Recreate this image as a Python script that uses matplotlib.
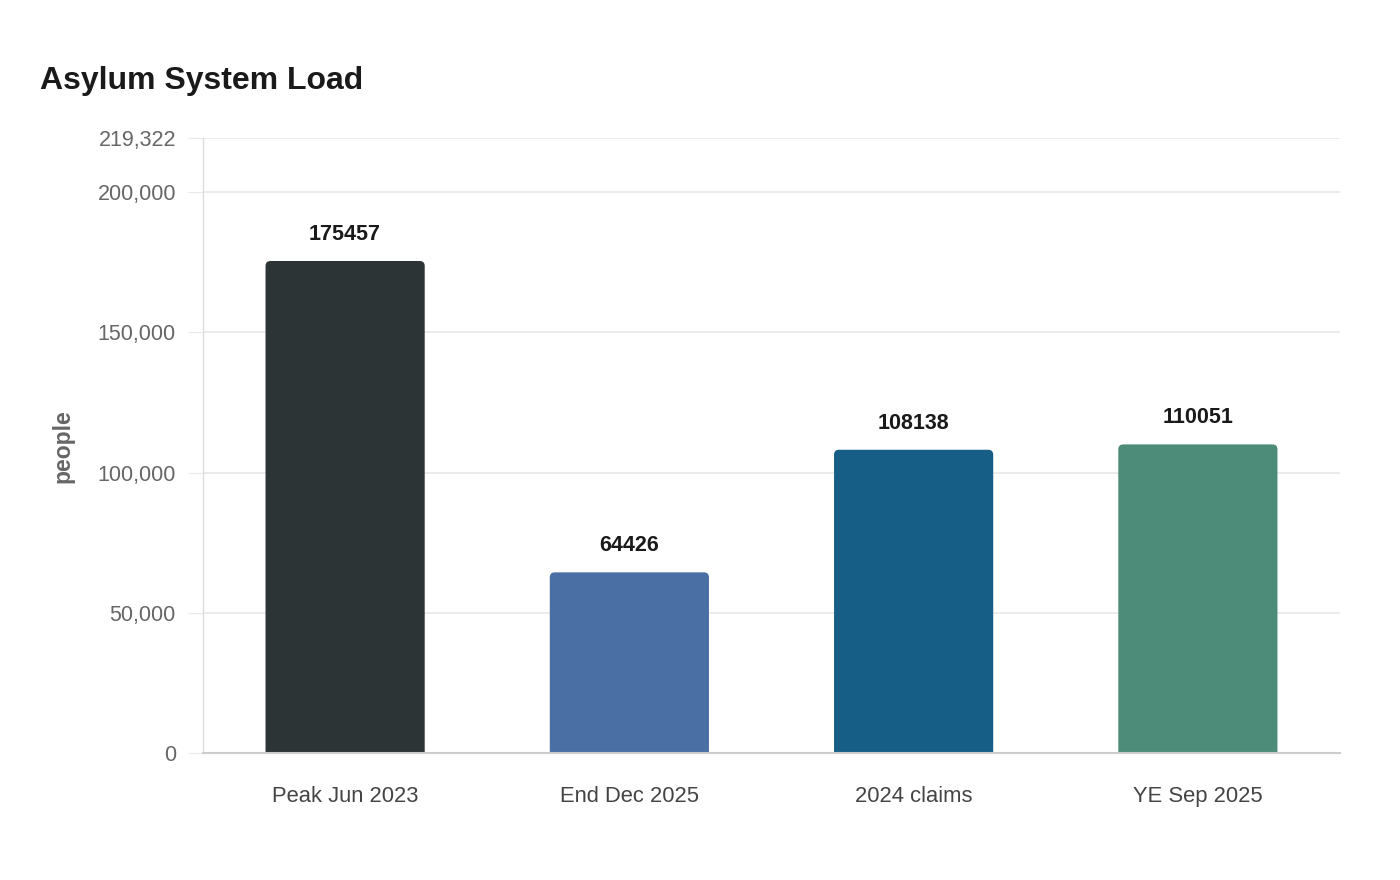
import matplotlib
matplotlib.use("Agg")
import matplotlib.pyplot as plt
from matplotlib.patches import FancyBboxPatch
from matplotlib.ticker import FixedLocator

categories = ["Peak Jun 2023", "End Dec 2025", "2024 claims", "YE Sep 2025"]
values = [175457, 64426, 108138, 110051]
colors = ["#2d3436", "#4a6fa5", "#175e86", "#4e8c7a"]
yticks = [0, 50000, 100000, 150000, 200000, 219322]
ymax = 219322

plt.rcParams['font.family'] = ['Liberation Sans', 'DejaVu Sans']

fig = plt.figure(figsize=(14, 8.8), dpi=100)
ax_w_px = 1340 - 203
ax_h_px = 753 - 138
ax = fig.add_axes([203/1400, 1-753/880, ax_w_px/1400, ax_h_px/880])

ax.set_xlim(-0.5, 3.5)
ax.set_ylim(0, ymax)

x = list(range(len(categories)))
bars = ax.bar(x, values, width=0.56, color=colors, zorder=3)

# rounded tops: data-unit aspect correction; bottom extended below axis and clipped
x_per_px = 4.0 / ax_w_px
y_per_px = ymax / ax_h_px
aspect = y_per_px / x_per_px
r = 5 * x_per_px
ext = 12 * y_per_px
for b in bars:
    b.set_visible(False)
    bx, by, bw, bh = b.get_x(), b.get_y(), b.get_width(), b.get_height()
    fc = b.get_facecolor()
    p = FancyBboxPatch((bx, by - ext), bw, bh + ext,
                       boxstyle=f"round,pad=0,rounding_size={r}",
                       mutation_aspect=aspect,
                       facecolor=fc, edgecolor='none', linewidth=0, zorder=3)
    ax.add_patch(p)
    p.set_clip_path(ax.patch)

for xi, v in zip(x, values):
    ax.annotate(f"{v}", (xi, v), xytext=(0, 16), textcoords='offset pixels',
                ha='center', va='bottom', fontsize=15.5, fontweight='bold', color='#1a1a1a')

ax.yaxis.set_major_locator(FixedLocator(yticks))
ax.set_yticklabels([f"{t:,}" for t in yticks])
ax.set_xticks(x)
ax.set_xticklabels(categories)

ax.grid(axis='y', color='#e8e8e8', linewidth=1.2, zorder=0)
ax.tick_params(axis='y', length=11, color='#e8e8e8', labelsize=15.5, labelcolor='#666666', pad=8.5)
ax.tick_params(axis='x', length=0, labelsize=15.8, labelcolor='#444444', pad=24)

for s in ['top', 'right']:
    ax.spines[s].set_visible(False)
ax.spines['left'].set_color('#dddddd')
ax.spines['left'].set_linewidth(1)
ax.spines['bottom'].set_color('#cccccc')
ax.spines['bottom'].set_linewidth(1.5)
ax.spines['bottom'].set_zorder(4)

fig.text(63/1400, 1-446/880, "people", rotation=90, ha='center', va='center',
         fontsize=16.5, fontweight='bold', color='#666666')
fig.text(40/1400, 1-81/880, "Asylum System Load", ha='left', va='center',
         fontsize=23, fontweight='bold', color='#1a1a1a')

fig.savefig("out.png", dpi=100, facecolor='white')
